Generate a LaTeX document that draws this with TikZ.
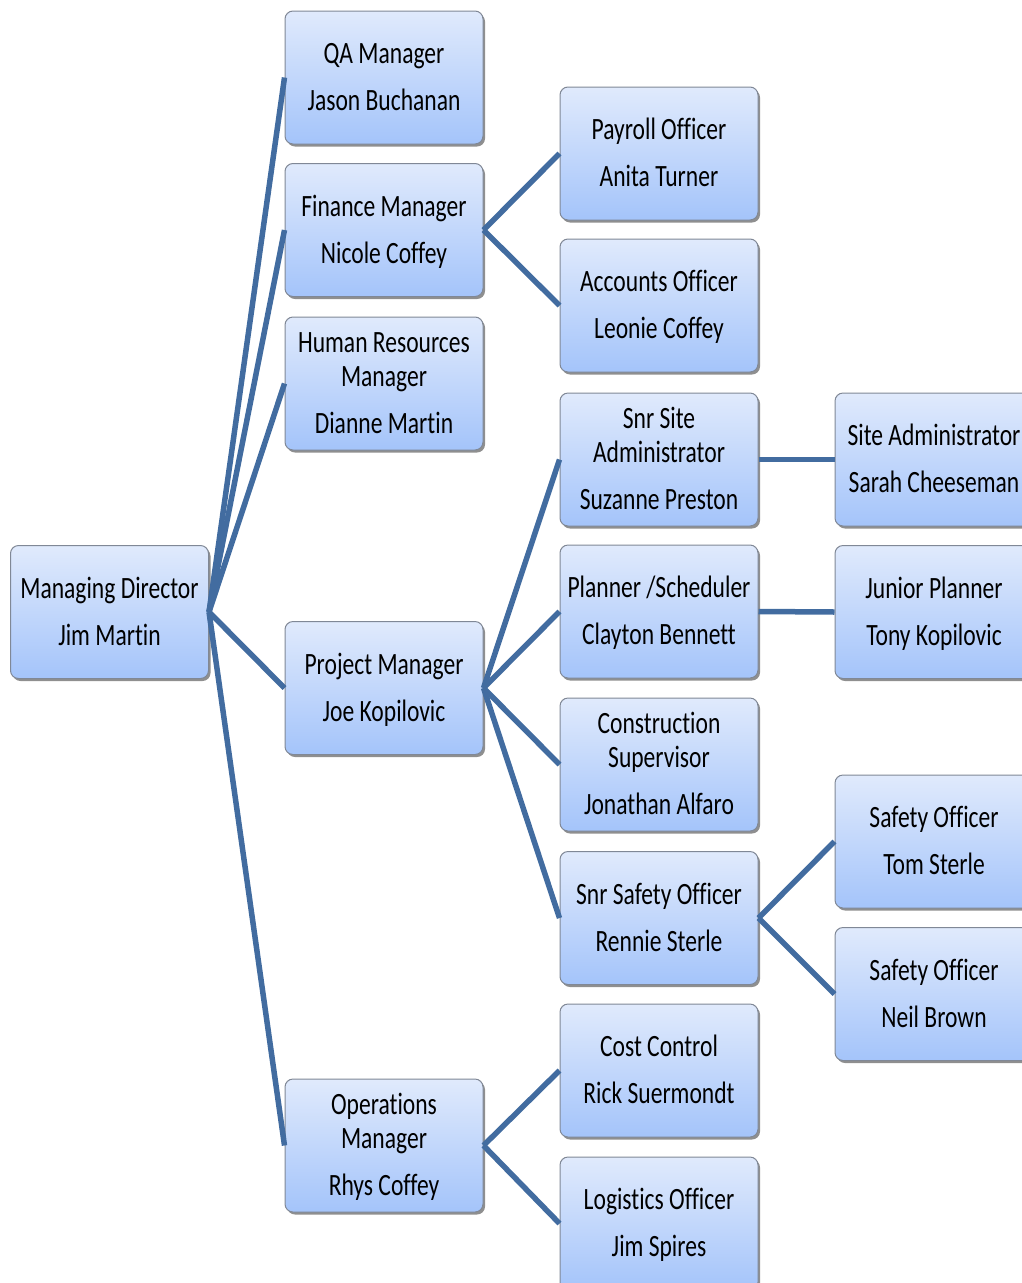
\documentclass[tikz,border=0pt]{standalone}
\usepackage{fontspec}
\setmainfont{Carlito}[Ligatures=CommonOff]
\usetikzlibrary{shadows}
\definecolor{boxtop}{RGB}{224,234,252}
\definecolor{boxbot}{RGB}{164,196,250}
\definecolor{boxline}{RGB}{128,136,150}
\definecolor{linkblue}{RGB}{66,108,160}
\newcommand{\post}[2]{\raisebox{-3pt}[\height][\depth]{\scalebox{0.76}[1]{\begin{tabular}{@{}c@{}}#1\\[13pt]#2\end{tabular}}}}
\tikzset{every picture/.style={line width=0.75pt}}
\tikzset{
  postbox/.style={draw=boxline, line width=1pt, rounded corners=8pt,
    top color=boxtop, bottom color=boxbot,
    minimum width=198pt, minimum height=133pt, inner sep=0pt,
    font=\fontsize{31}{34}\selectfont,
    drop shadow={shadow xshift=2pt, shadow yshift=-2.5pt, fill=black!55, opacity=0.8}},
  link/.style={draw=linkblue, line width=5.5pt}
}
\begin{document}
\begin{tikzpicture}[x=1pt,y=1pt,yscale=-1,xscale=1]
\useasboundingbox (0,0) rectangle (1022,1283);
%Boxes: director
\node [postbox] (md) at (109.5,612) {\post{Managing Director}{Jim Martin}};
%Boxes: managers
\node [postbox] (qa) at (384,77.5) {\post{QA Manager}{Jason Buchanan}};
\node [postbox] (fin) at (384,230) {\post{Finance Manager}{Nicole Coffey}};
\node [postbox] (hr) at (384,383.5) {\post{Human Resources\\Manager}{Dianne Martin}};
\node [postbox] (pm) at (384,688) {\post{Project Manager}{Joe Kopilovic}};
\node [postbox] (ops) at (384,1145.5) {\post{Operations\\Manager}{Rhys Coffey}};
%Boxes: third level
\node [postbox] (pay) at (659,153.5) {\post{Payroll Officer}{Anita Turner}};
\node [postbox] (acc) at (659,305.5) {\post{Accounts Officer}{Leonie Coffey}};
\node [postbox] (snrsite) at (659,459.5) {\post{Snr Site\\Administrator}{Suzanne Preston}};
\node [postbox] (plan) at (659,611.5) {\post{Planner /Scheduler}{Clayton Bennett}};
\node [postbox] (cons) at (659,764.5) {\post{Construction\\Supervisor}{Jonathan Alfaro}};
\node [postbox] (snrsafe) at (659,918) {\post{Snr Safety Officer}{Rennie Sterle}};
\node [postbox] (cost) at (659,1070.5) {\post{Cost Control}{Rick Suermondt}};
\node [postbox] (logi) at (659,1223.5) {\post{Logistics Officer}{Jim Spires}};
%Boxes: fourth level
\node [postbox] (siteadm) at (934,459.5) {\post{Site Administrator}{Sarah Cheeseman}};
\node [postbox] (jun) at (934,612) {\post{Junior Planner}{Tony Kopilovic}};
\node [postbox] (safe1) at (934,841.5) {\post{Safety Officer}{Tom Sterle}};
\node [postbox] (safe2) at (934,994) {\post{Safety Officer}{Neil Brown}};

%Straight Lines
\foreach \n in {qa,fin,hr,pm,ops}
  \draw [link] (md.east) -- (\n.west);
\foreach \n in {pay,acc}
  \draw [link] (fin.east) -- (\n.west);
\foreach \n in {snrsite,plan,cons,snrsafe}
  \draw [link] (pm.east) -- (\n.west);
\foreach \n in {cost,logi}
  \draw [link] (ops.east) -- (\n.west);
\foreach \n in {safe1,safe2}
  \draw [link] (snrsafe.east) -- (\n.west);
\draw [link] (snrsite.east) -- (siteadm.west);
\draw [link] (plan.east) -- (jun.west);
\end{tikzpicture}
\end{document}
